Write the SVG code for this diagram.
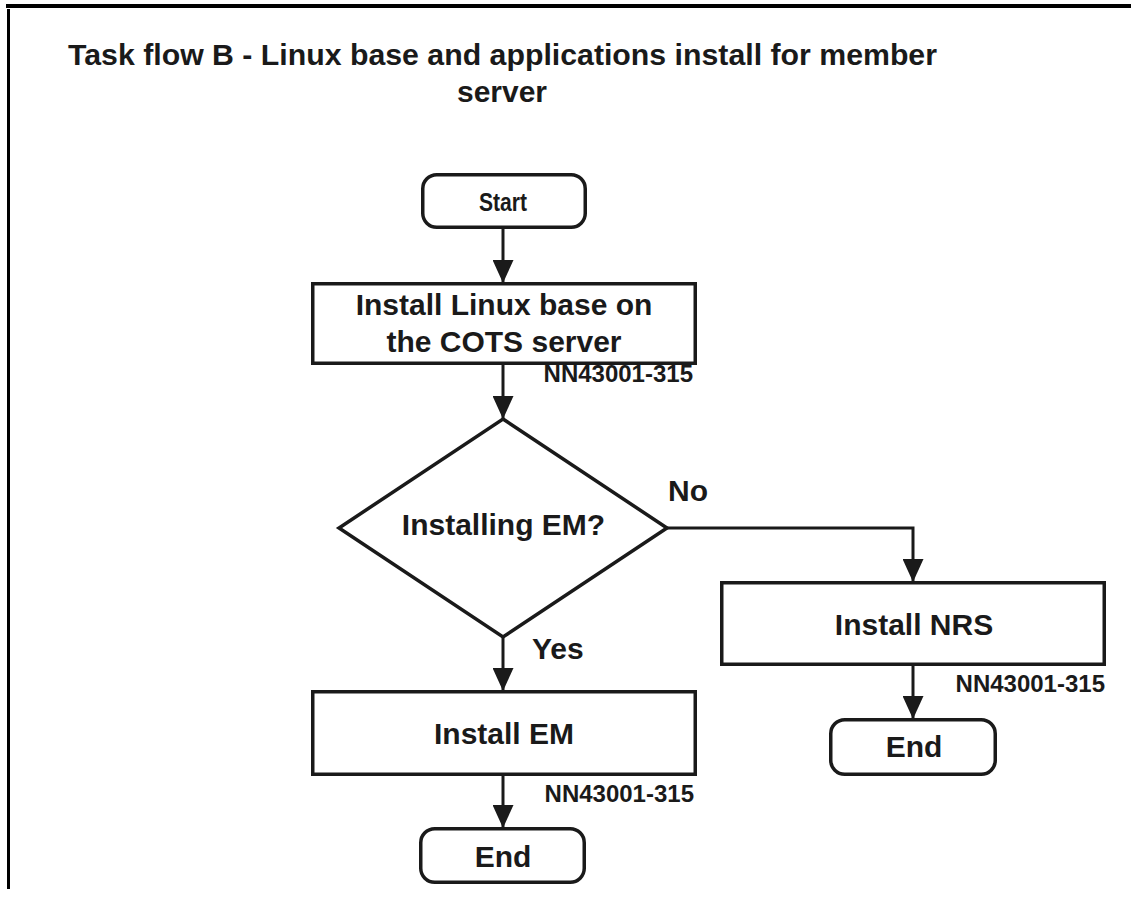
<svg xmlns="http://www.w3.org/2000/svg" width="1131" height="912" viewBox="0 0 1131 912">
<style>
text{font-family:"Liberation Sans",Arial,Helvetica,sans-serif;font-weight:bold;fill:#1a1a1a}
.t30{font-size:30px}
.ref{font-size:24px;text-anchor:end}
.mid{text-anchor:middle}
.box{fill:#fff;stroke:#1a1a1a;stroke-width:3.5}
.conn{fill:none;stroke:#1a1a1a;stroke-width:3;marker-end:url(#arrow)}
</style>
<defs>
<marker id="arrow" markerUnits="userSpaceOnUse" viewBox="0 0 23 21" markerWidth="23" markerHeight="21" refX="23" refY="10.5" orient="auto">
<path d="M0,0 L23,10.5 L0,21 z" fill="#1a1a1a"/>
</marker>
</defs>
<rect width="1131" height="912" fill="#fff"/>
<g id="frame">
<rect x="6" y="4" width="1125" height="4" fill="#000"/>
<rect x="7" y="9" width="3" height="880" fill="#000"/>
</g>
<g id="title">
<text class="t30" x="68" y="65" textLength="869" lengthAdjust="spacingAndGlyphs">Task flow B - Linux base and applications install for member</text>
<text class="t30 mid" x="502" y="102">server</text>
</g>
<g id="connectors">
<path class="conn" d="M503,229 L503,283"/>
<path class="conn" d="M503,365 L503,419"/>
<path class="conn" d="M667,528 L913,528 L913,582"/>
<path class="conn" d="M913,666 L913,719"/>
<path class="conn" d="M503,637 L503,691"/>
<path class="conn" d="M503,776 L503,828"/>
<text class="t30" x="668" y="501">No</text>
<text class="t30" x="532" y="659">Yes</text>
</g>
<g id="start">
<rect class="box" x="422.75" y="174.75" width="162.5" height="52.5" rx="14"/>
<text class="mid" x="503" y="211" font-size="26" textLength="48" lengthAdjust="spacingAndGlyphs">Start</text>
</g>
<g id="install-linux">
<rect class="box" x="312.75" y="283.75" width="382.5" height="79.5"/>
<text class="t30 mid" x="504" y="315">Install Linux base on</text>
<text class="t30 mid" x="504" y="352">the COTS server</text>
<text class="ref" x="693" y="382">NN43001-315</text>
</g>
<g id="decision">
<polygon class="box" points="503,419 667,528 503,637 339,528"/>
<text class="t30 mid" x="503.5" y="535">Installing EM?</text>
</g>
<g id="install-nrs">
<rect class="box" x="721.75" y="582.75" width="382.5" height="81.5"/>
<text class="t30 mid" x="914" y="635">Install NRS</text>
<text class="ref" x="1105" y="692">NN43001-315</text>
</g>
<g id="end-nrs">
<rect class="box" x="830.75" y="719.75" width="164.5" height="54.5" rx="14"/>
<text class="t30 mid" x="914" y="757">End</text>
</g>
<g id="install-em">
<rect class="box" x="312.75" y="691.75" width="382.5" height="82.5"/>
<text class="t30 mid" x="504" y="744">Install EM</text>
<text class="ref" x="694" y="802">NN43001-315</text>
</g>
<g id="end-em">
<rect class="box" x="420.75" y="828.75" width="163.5" height="53.5" rx="14"/>
<text class="t30 mid" x="503" y="867">End</text>
</g>
</svg>
